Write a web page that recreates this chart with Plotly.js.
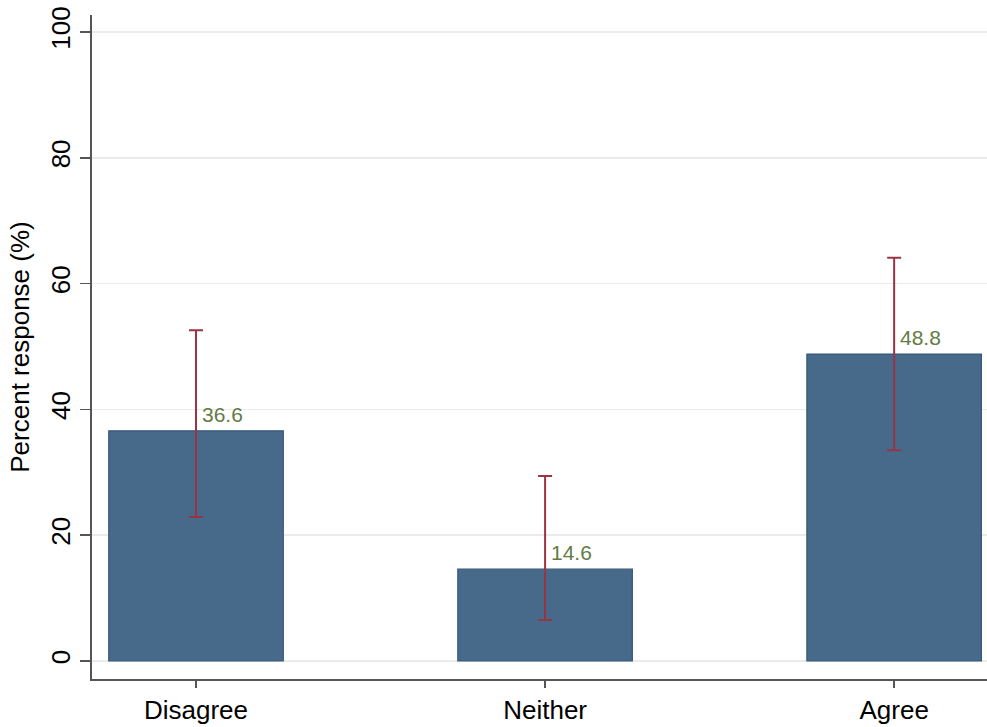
<!DOCTYPE html>
<html>
<head>
<meta charset="utf-8">
<script src="https://cdn.plot.ly/plotly-3.0.1.min.js"></script>
<style>html,body{margin:0;padding:0;background:#fff;}#chart{width:987px;height:727px;}</style>
</head>
<body>
<div id="chart"></div>
<script>
const categories = ["Disagree", "Neither", "Agree"];
const percents = [36.6, 14.6, 48.8];
const ciUpper = [52.6, 29.4, 64.1];
const ciLower = [22.9, 6.5, 33.5];
const yTicks = [0, 20, 40, 60, 80, 100];

const xIdx = categories.map((c, i) => i);
const trace = {
  type: "bar",
  x: xIdx,
  y: percents,
  width: 0.5,
  marker: {color: "#476a8b", line: {color: "#36587a", width: 1.2}},
  error_y: {
    type: "data",
    symmetric: false,
    array: percents.map((v, i) => ciUpper[i] - v),
    arrayminus: percents.map((v, i) => v - ciLower[i]),
    color: "#983444",
    thickness: 2,
    width: 7
  },
  hoverinfo: "skip"
};

const annotations = percents.map((v, i) => ({
  x: i, y: v, xref: "x", yref: "y",
  text: v.toFixed(1),
  showarrow: false,
  xanchor: "left", yanchor: "bottom",
  xshift: 4, yshift: 3,
  font: {family: "Liberation Sans, Arial, sans-serif", size: 21, color: "#647b44"}
}));

const layout = {
  width: 987, height: 727,
  margin: {l: 92, r: 0, t: 15, b: 48},
  paper_bgcolor: "#fff", plot_bgcolor: "#fff",
  showlegend: false,
  font: {family: "Liberation Sans, Arial, sans-serif", color: "#000"},
  xaxis: {
    range: [-0.298, 2.266],
    tickmode: "array", tickvals: xIdx, ticktext: categories,
    showgrid: false, zeroline: false,
    showline: true, linecolor: "#555", linewidth: 2,
    ticks: "outside", ticklen: 7, tickwidth: 1.5, tickcolor: "#555",
    tickfont: {size: 26, color: "#000"}
  },
  yaxis: {
    range: [-2.86, 102.7],
    tickmode: "array", tickvals: yTicks,
    tickangle: -90,
    showgrid: true, gridcolor: "#ebebeb", gridwidth: 1.5,
    zeroline: false,
    showline: true, linecolor: "#555", linewidth: 2,
    ticks: "outside", ticklen: 10, tickwidth: 1.5, tickcolor: "#555",
    tickfont: {size: 26, color: "#000"},
    title: {text: "Percent response (%)", font: {size: 26, color: "#000"}, standoff: 8}
  },
  annotations: annotations
};

Plotly.newPlot("chart", [trace], layout, {staticPlot: true, displayModeBar: false});
</script>
</body>
</html>
